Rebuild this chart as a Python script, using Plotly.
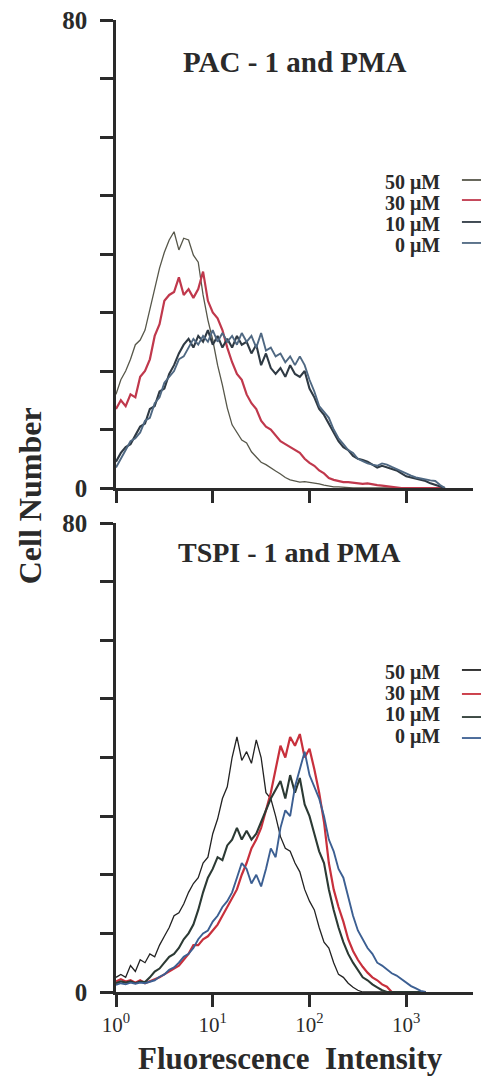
import plotly.graph_objects as go

# decade positions (log10 of fluorescence intensity) of the histogram channels
top_log = [0.00, 0.05, 0.10, 0.15, 0.20, 0.25, 0.30, 0.35, 0.40, 0.45,
           0.50, 0.55, 0.60, 0.65, 0.70, 0.75, 0.80, 0.85, 0.90, 0.95,
           1.00, 1.05, 1.10, 1.15, 1.20, 1.25, 1.30, 1.35, 1.40, 1.45,
           1.50, 1.55, 1.60, 1.65, 1.70, 1.75, 1.80, 1.85, 1.90, 1.95,
           2.00, 2.05, 2.10, 2.15, 2.20, 2.25, 2.30, 2.35, 2.40, 2.45,
           2.50, 2.55, 2.60, 2.65, 2.70, 2.75, 2.80, 2.85, 2.90, 2.95,
           3.00, 3.05, 3.10, 3.15, 3.20, 3.25, 3.30, 3.35, 3.40]
bottom_log = top_log[:65]

# PAC-1 and PMA
top_50 = [16, 18.5, 20, 22, 24.5, 25.3, 27, 30.4, 33.8, 37.6,
          40.3, 42.4, 43.8, 40.7, 42.7, 42.4, 39.8, 38.6, 33, 28.7,
          25.3, 21, 17.6, 13.7, 10.8, 9.4, 8.2, 7.7, 6.2, 5.3,
          4.4, 4.0, 3.4, 2.9, 2.4, 1.8, 1.4, 1.2, 1.0, 1.1,
          1.0, 0.8, 0.7, 0.5, 0.3, 0.2, 0.2, 0.1, 0, 0,
          0, 0, 0, 0, 0, 0, 0, 0, 0, 0,
          0, 0, 0, 0, 0, 0, 0, 0, 0]
top_30 = [13.5, 15, 14, 16, 15.5, 19, 20, 22, 26, 28,
          32, 33, 33.5, 36, 33, 34, 32.5, 34, 37, 32,
          30, 29, 27, 24, 21.5, 19.5, 18.5, 16, 14.5, 13.5,
          11.5, 10.5, 10, 9, 8, 7.5, 7, 6.5, 6, 5,
          4.3, 3.8, 3, 2.5, 1.7, 1.4, 1.2, 1.0, 1.0, 0.9,
          0.8, 0.7, 0.8, 0.6, 0.5, 0.4, 0.3, 0.1, 0, 0,
          0, 0, 0, 0, 0, 0, 0, 0, 0]
top_10 = [4.5, 6, 7, 7.5, 9, 10.5, 11, 13.5, 14, 16.5,
          17, 19.5, 21, 23, 24.5, 25.5, 24, 26, 25, 27,
          24.5, 26, 24, 25.5, 24, 26, 24.5, 25, 23, 24.5,
          21, 23, 20.5, 19.5, 20.5, 19, 21, 19.5, 19, 20,
          17, 15.5, 13.5, 12.5, 11, 9.5, 8, 7, 6.5, 5.5,
          5, 4.8, 4.5, 4, 3.5, 3.8, 3.5, 3.2, 3, 2.5,
          2, 1.8, 1.6, 1.4, 1.2, 0.8, 0.5, 0.2, 0]
top_0 = [3.5, 5, 6.5, 8, 8.5, 9.5, 11.5, 12, 14.5, 15.5,
         18, 19, 20, 22, 22.5, 24, 25.5, 24.5, 26, 25,
         27, 25, 26.5, 25, 26, 24.5, 26.5, 25, 26, 24,
         26.5, 23.5, 24, 22.5, 23, 21.5, 22.5, 21, 22.5, 21,
         18.5, 16.5, 14, 13, 12, 10, 8.5, 7.5, 6.5, 6,
         5, 4.6, 4.2, 4, 3.8, 4.2, 4, 3.6, 3.2, 2.8,
         2.4, 2.1, 1.8, 1.6, 1.4, 1.3, 1.2, 0.5, 0]

# TSPI-1 and PMA
bottom_50 = [2.5, 3, 2.5, 4.5, 3.5, 5.5, 5, 6.5, 6, 8,
             9.5, 11, 13, 13.5, 15, 17, 18.5, 19.5, 22, 23,
             27, 29.5, 33, 35, 40, 43.5, 39.5, 41, 39, 43,
             40, 34, 33, 30, 26.5, 24.5, 24, 22, 20.5, 17.5,
             15.5, 14, 11, 8.5, 7.5, 5, 3, 2.5, 1.5, 0.8,
             0.3, 0, 0, 0, 0, 0, 0, 0, 0, 0,
             0, 0, 0, 0, 0]
bottom_30 = [1.8, 2.2, 1.8, 2, 1.6, 2, 1.5, 1.8, 2.2, 2.5,
             3, 3.5, 4, 4.5, 5.5, 6.5, 8, 8, 9, 9.5,
             10.5, 11.5, 13, 14.5, 16, 17.5, 20, 22, 24.5, 26,
             28, 31, 34, 38, 42, 40, 43.5, 42, 44, 40,
             41.5, 38, 34, 29, 22, 17.5, 14.5, 12, 9, 7,
             5.5, 4.3, 3.3, 2.5, 2, 1.3, 0.9, 0, 0, 0,
             0, 0, 0, 0, 0]
bottom_10 = [1.5, 1.8, 1.6, 1.8, 1.5, 1.8, 1.7, 2.5, 3.5, 4,
             5, 6, 6.5, 7.5, 9, 10, 11.5, 14, 17, 19.5,
             21, 23, 22.5, 25, 26, 28, 26, 27.5, 26, 27,
             29, 31, 33, 34.5, 36, 33, 37, 34, 36.5, 32,
             30, 27, 24, 22, 17.5, 14, 11, 8.5, 6.5, 5,
             3.8, 2.5, 2, 1.3, 0.8, 0.3, 0, 0, 0, 0,
             0, 0, 0, 0, 0]
bottom_0 = [1.2, 1.5, 1.3, 1.6, 1.4, 1.6, 1.5, 1.8, 2, 2.6,
            3, 3.8, 4.2, 5, 6, 6.5, 7.5, 9, 10, 10.5,
            12, 13, 14.5, 15.5, 17, 19.5, 22, 21, 18.5, 20,
            18, 21, 24.5, 23, 28, 31, 30, 35, 38, 41,
            37, 35, 33, 30, 26, 24, 21, 19.5, 16, 13,
            10.5, 9, 7.5, 6.5, 5, 4.5, 3.8, 3.2, 2.8, 2.2,
            1.6, 1.0, 0.6, 0.2, 0]

doses = ["50 \u03bcM", "30 \u03bcM", "10 \u03bcM", "0 \u03bcM"]
top_colors = ["#57574a", "#c0384c", "#2f3a44", "#4f6882"]
bottom_colors = ["#222222", "#c8303c", "#2c3a34", "#3c5f92"]
widths = [1.3, 2.2, 2.1, 1.9]

FONT = "Liberation Serif"
INK = "#2a2a2a"

fig = go.Figure()

panels = [
    ("x", "y", top_log, [top_50, top_30, top_10, top_0], top_colors),
    ("x2", "y2", bottom_log, [bottom_50, bottom_30, bottom_10, bottom_0], bottom_colors),
]
for xa, ya, logs, series, colors in panels:
    xs = [10 ** v for v in logs]
    for name, counts, color, w in zip(doses, series, colors, widths):
        fig.add_trace(go.Scatter(
            x=xs, y=counts, mode="lines", name=name, xaxis=xa, yaxis=ya,
            line=dict(color=color, width=w), showlegend=False,
        ))

x_common = dict(
    type="log", range=[0, 3.69], showline=True, linewidth=2.5, linecolor=INK,
    ticks="outside", ticklen=12, tickwidth=2.5, tickcolor=INK,
    tickvals=[1, 10, 100, 1000], showgrid=False, zeroline=False,
    automargin=False, ticklabeloverflow="allow",
)
y_common = dict(
    range=[0, 80], showline=True, linewidth=2.5, linecolor=INK,
    ticks="outside", ticklen=13, tickwidth=2.5, tickcolor=INK,
    tickvals=[0, 10, 20, 30, 40, 50, 60, 70, 80],
    ticktext=["0", "", "", "", "", "", "", "", "80"],
    tickfont=dict(family=FONT, size=25, color=INK, weight="bold"),
    ticklabelstandoff=8, showgrid=False, zeroline=False,
    automargin=False, ticklabeloverflow="allow",
)

# the page body adds an 8 px offset, so the figure is 8 px smaller on each side
fig.update_layout(
    width=481, height=1070,
    margin=dict(l=108, r=16, t=12, b=86),
    paper_bgcolor="white", plot_bgcolor="white",
    font=dict(family=FONT, color=INK),
    xaxis=dict(x_common, anchor="y", showticklabels=False),
    yaxis=dict(y_common, anchor="x", domain=[0.5185, 1.0]),
    xaxis2=dict(x_common, anchor="y2",
                ticktext=["10<sup>0</sup>", "10<sup>1</sup>", "10<sup>2</sup>", "10<sup>3</sup>"],
                tickfont=dict(family=FONT, size=21, color=INK)),
    yaxis2=dict(y_common, anchor="x2", domain=[0, 0.4825]),
)

ann = dict(xref="paper", yref="paper", showarrow=False, xanchor="center", yanchor="middle")

# panel titles and axis titles
fig.add_annotation(ann, text="PAC - 1 and PMA", x=0.50, y=0.957,
                   font=dict(family=FONT, size=29, color=INK, weight="bold"))
fig.add_annotation(ann, text="TSPI - 1 and PMA", x=0.485, y=0.452,
                   font=dict(family=FONT, size=28, color=INK, weight="bold"))
fig.add_annotation(ann, text="Cell Number", x=-0.241, y=0.511, textangle=-90,
                   font=dict(family=FONT, size=32, color=INK, weight="bold"))
fig.add_annotation(ann, text="Fluorescence  Intensity", x=0.49, y=-0.068,
                   font=dict(family=FONT, size=31, color=INK, weight="bold"))

# hand-made legends: label on the left, line sample on the right
legend_rows = [
    ([0.8333, 0.8117, 0.7901, 0.7685], [0.8354, 0.8148, 0.7922, 0.7706], top_colors),
    ([0.3282, 0.3066, 0.2860, 0.2624], [0.3313, 0.3066, 0.2829, 0.2613], bottom_colors),
]
for text_ys, line_ys, colors in legend_rows:
    for name, ty, ly, color in zip(doses, text_ys, line_ys, colors):
        fig.add_annotation(ann, text=name, x=0.913, y=ty, xanchor="right",
                           font=dict(family=FONT, size=20, color=INK, weight="bold"))
        fig.add_shape(type="line", xref="paper", yref="paper",
                      x0=0.969, x1=1.05, y0=ly, y1=ly,
                      line=dict(color=color, width=1.8))

fig.write_html("out.html")
